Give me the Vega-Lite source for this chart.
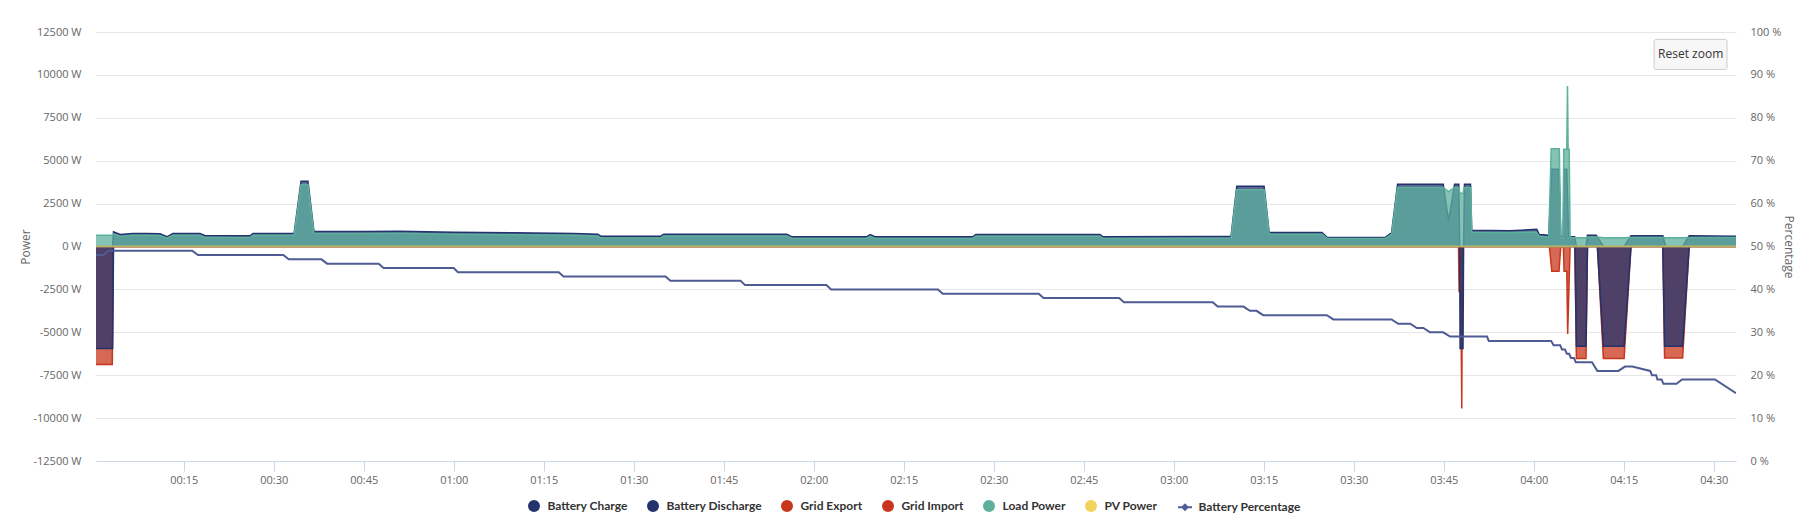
{
  "$schema": "https://vega.github.io/schema/vega-lite/v6.json",
  "width": 1640,
  "height": 429,
  "autosize": {"type": "none"},
  "padding": {"left": 96, "top": 32, "right": 64, "bottom": 66},
  "background": "white",
  "config": {
    "font": "Open Sans",
    "view": {"stroke": null},
    "axis": {"labelColor": "#666666", "labelFontSize": 11, "titleColor": "#666666", "titleFontSize": 12, "titleFontWeight": "normal"}
  },
  "datasets": {
    "load": [
      {"m": 0.38, "w": 660}, {"m": 3.15, "w": 660}, {"m": 3.3, "w": 740}, {"m": 4.4, "w": 600},
      {"m": 6.55, "w": 660}, {"m": 8.9, "w": 660}, {"m": 11.05, "w": 640}, {"m": 12.2, "w": 480},
      {"m": 13.2, "w": 660}, {"m": 17.7, "w": 660}, {"m": 18.5, "w": 540}, {"m": 26.05, "w": 520},
      {"m": 26.55, "w": 660}, {"m": 33.4, "w": 660}, {"m": 34.55, "w": 3620}, {"m": 35.7, "w": 3620},
      {"m": 36.7, "w": 760}, {"m": 45, "w": 760}, {"m": 51, "w": 770}, {"m": 60, "w": 720},
      {"m": 70, "w": 690}, {"m": 80, "w": 650}, {"m": 84, "w": 610}, {"m": 84.5, "w": 500},
      {"m": 94.5, "w": 500}, {"m": 95, "w": 610}, {"m": 115.5, "w": 610}, {"m": 116.4, "w": 470},
      {"m": 128.8, "w": 470}, {"m": 129.4, "w": 590}, {"m": 130.2, "w": 470}, {"m": 146.5, "w": 470},
      {"m": 147, "w": 600}, {"m": 167.7, "w": 600}, {"m": 168.2, "w": 470}, {"m": 184.4, "w": 480},
      {"m": 189.55, "w": 500}, {"m": 190.5, "w": 3300}, {"m": 195.05, "w": 3300}, {"m": 195.9, "w": 720},
      {"m": 204.7, "w": 720}, {"m": 205.6, "w": 460}, {"m": 215.2, "w": 460}, {"m": 216.3, "w": 700},
      {"m": 217.3, "w": 3440}, {"m": 224.9, "w": 3440}, {"m": 225.8, "w": 3200}, {"m": 226.8, "w": 3440},
      {"m": 227.5, "w": 3440}, {"m": 227.7, "w": 3100}, {"m": 228.2, "w": 3100}, {"m": 228.4, "w": 3440},
      {"m": 229.5, "w": 3440}, {"m": 229.65, "w": 830}, {"m": 236, "w": 810}, {"m": 240.4, "w": 840},
      {"m": 240.9, "w": 600}, {"m": 242.5, "w": 560}, {"m": 242.9, "w": 5700}, {"m": 244.25, "w": 5700},
      {"m": 244.5, "w": 520}, {"m": 244.85, "w": 500}, {"m": 245.0, "w": 5670}, {"m": 245.5, "w": 5670},
      {"m": 245.62, "w": 9350}, {"m": 245.72, "w": 5670}, {"m": 245.9, "w": 5670}, {"m": 246.05, "w": 510},
      {"m": 248.7, "w": 510}, {"m": 248.95, "w": 560}, {"m": 250.4, "w": 560}, {"m": 251.6, "w": 510},
      {"m": 255.05, "w": 510}, {"m": 256.2, "w": 530}, {"m": 261.5, "w": 530}, {"m": 262.0, "w": 510},
      {"m": 264.8, "w": 510}, {"m": 265.9, "w": 530}, {"m": 273.7, "w": 520}
    ],
    "bdis": [
      {"m": 0.38, "w": 0}, {"m": 3.15, "w": 0}, {"m": 3.3, "w": 860}, {"m": 4.4, "w": 700},
      {"m": 6.55, "w": 760}, {"m": 8.9, "w": 760}, {"m": 11.05, "w": 740}, {"m": 12.2, "w": 565},
      {"m": 13.2, "w": 760}, {"m": 17.7, "w": 760}, {"m": 18.5, "w": 640}, {"m": 26.05, "w": 622},
      {"m": 26.55, "w": 760}, {"m": 33.4, "w": 760}, {"m": 34.55, "w": 3800}, {"m": 35.7, "w": 3800},
      {"m": 36.7, "w": 880}, {"m": 45, "w": 880}, {"m": 51, "w": 890}, {"m": 60, "w": 830},
      {"m": 70, "w": 800}, {"m": 80, "w": 760}, {"m": 84, "w": 720}, {"m": 84.5, "w": 600},
      {"m": 94.5, "w": 600}, {"m": 95, "w": 717}, {"m": 115.5, "w": 717}, {"m": 116.4, "w": 565},
      {"m": 128.8, "w": 565}, {"m": 129.4, "w": 690}, {"m": 130.2, "w": 565}, {"m": 146.5, "w": 565},
      {"m": 147, "w": 700}, {"m": 167.7, "w": 700}, {"m": 168.2, "w": 565}, {"m": 184.4, "w": 580},
      {"m": 189.55, "w": 600}, {"m": 190.5, "w": 3515}, {"m": 195.05, "w": 3515}, {"m": 195.9, "w": 815},
      {"m": 204.7, "w": 815}, {"m": 205.6, "w": 525}, {"m": 215.2, "w": 525}, {"m": 216.3, "w": 800},
      {"m": 217.3, "w": 3630}, {"m": 224.9, "w": 3630}, {"m": 225.8, "w": 1500}, {"m": 226.8, "w": 3630},
      {"m": 227.5, "w": 3630}, {"m": 227.65, "w": 0}, {"m": 228.3, "w": 0}, {"m": 228.45, "w": 3630},
      {"m": 229.45, "w": 3630}, {"m": 229.65, "w": 950}, {"m": 236, "w": 920}, {"m": 240.5, "w": 1000},
      {"m": 240.9, "w": 700}, {"m": 242.5, "w": 650}, {"m": 243.0, "w": 4500}, {"m": 244.2, "w": 4500},
      {"m": 244.5, "w": 565}, {"m": 244.93, "w": 565}, {"m": 245.05, "w": 4500}, {"m": 245.5, "w": 4500},
      {"m": 245.8, "w": 565}, {"m": 246.8, "w": 565}, {"m": 247.1, "w": 0}, {"m": 248.7, "w": 0},
      {"m": 248.95, "w": 660}, {"m": 250.4, "w": 660}, {"m": 251.6, "w": 0}, {"m": 255.05, "w": 0},
      {"m": 256.2, "w": 620}, {"m": 261.5, "w": 620}, {"m": 262.0, "w": 0}, {"m": 264.8, "w": 0},
      {"m": 265.9, "w": 620}, {"m": 273.7, "w": 600}
    ],
    "bchg": [
      {"m": 0.38, "w": -5950}, {"m": 3.15, "w": -5950}, {"m": 3.3, "w": 0}, {"m": 227.65, "w": 0},
      {"m": 227.72, "w": -5950}, {"m": 228.2, "w": -5950}, {"m": 228.3, "w": 0}, {"m": 246.85, "w": 0},
      {"m": 247.1, "w": -5810}, {"m": 248.7, "w": -5810}, {"m": 248.95, "w": 0}, {"m": 250.6, "w": 0},
      {"m": 251.6, "w": -5810}, {"m": 255.05, "w": -5810}, {"m": 256.2, "w": 0}, {"m": 261.5, "w": 0},
      {"m": 261.8, "w": -5810}, {"m": 264.8, "w": -5810}, {"m": 265.9, "w": 0}, {"m": 273.7, "w": 0}
    ],
    "gimp": [
      {"m": 0.38, "w": -6880}, {"m": 3.1, "w": -6880}, {"m": 3.25, "w": 0}, {"m": 227.45, "w": 0},
      {"m": 227.55, "w": -2620}, {"m": 227.83, "w": -2620}, {"m": 228.0, "w": -9440}, {"m": 228.1, "w": 0},
      {"m": 242.6, "w": 0}, {"m": 243.0, "w": -1440}, {"m": 244.2, "w": -1440}, {"m": 244.5, "w": 0},
      {"m": 244.93, "w": 0}, {"m": 245.05, "w": -1440}, {"m": 245.5, "w": -1440}, {"m": 245.65, "w": -5100},
      {"m": 246.05, "w": 0}, {"m": 246.85, "w": 0}, {"m": 247.1, "w": -6530}, {"m": 248.7, "w": -6530},
      {"m": 248.95, "w": 0}, {"m": 250.6, "w": 0}, {"m": 251.6, "w": -6530}, {"m": 255.05, "w": -6530},
      {"m": 256.2, "w": 0}, {"m": 261.5, "w": 0}, {"m": 261.8, "w": -6500}, {"m": 264.8, "w": -6500},
      {"m": 265.9, "w": 0}, {"m": 273.7, "w": 0}
    ],
    "gexp": [{"m": 0.38, "w": 0}, {"m": 273.7, "w": 0}],
    "pv": [{"m": 0.38, "w": 0}, {"m": 273.7, "w": 0}],
    "soc": [
      {"m": 0.38, "p": 48}, {"m": 1.6, "p": 48}, {"m": 2.4, "p": 49}, {"m": 16.4, "p": 49},
      {"m": 17.4, "p": 48}, {"m": 31.6, "p": 48}, {"m": 32.5, "p": 47}, {"m": 37.95, "p": 47},
      {"m": 38.9, "p": 46}, {"m": 47.5, "p": 46}, {"m": 48.3, "p": 45}, {"m": 60, "p": 45},
      {"m": 60.7, "p": 44}, {"m": 77.5, "p": 44}, {"m": 78.3, "p": 43}, {"m": 95.3, "p": 43},
      {"m": 96.1, "p": 42}, {"m": 107.8, "p": 42}, {"m": 108.55, "p": 41}, {"m": 122.1, "p": 41},
      {"m": 122.9, "p": 40}, {"m": 140.7, "p": 40}, {"m": 141.5, "p": 39}, {"m": 157.5, "p": 39},
      {"m": 158.3, "p": 38}, {"m": 170.9, "p": 38}, {"m": 171.7, "p": 37}, {"m": 186.5, "p": 37},
      {"m": 187.3, "p": 36}, {"m": 191.6, "p": 36}, {"m": 192.7, "p": 35}, {"m": 193.8, "p": 35},
      {"m": 194.9, "p": 34}, {"m": 205.5, "p": 34}, {"m": 206.6, "p": 33}, {"m": 216.3, "p": 33},
      {"m": 217.4, "p": 32}, {"m": 219.4, "p": 32}, {"m": 220.5, "p": 31}, {"m": 221.6, "p": 31},
      {"m": 222.7, "p": 30}, {"m": 224.9, "p": 30}, {"m": 226.05, "p": 29}, {"m": 232.2, "p": 29},
      {"m": 232.5, "p": 28}, {"m": 242.9, "p": 28}, {"m": 243.3, "p": 27}, {"m": 244.4, "p": 27},
      {"m": 244.7, "p": 26}, {"m": 245.2, "p": 26}, {"m": 245.5, "p": 25}, {"m": 245.9, "p": 25},
      {"m": 246.2, "p": 24}, {"m": 246.7, "p": 24}, {"m": 247.0, "p": 23}, {"m": 249.7, "p": 23},
      {"m": 250.6, "p": 21}, {"m": 254.1, "p": 21}, {"m": 255.2, "p": 22}, {"m": 256.4, "p": 22},
      {"m": 259.4, "p": 21}, {"m": 259.7, "p": 20}, {"m": 260.4, "p": 20}, {"m": 260.6, "p": 19},
      {"m": 261.3, "p": 19}, {"m": 261.6, "p": 18}, {"m": 263.8, "p": 18}, {"m": 264.7, "p": 19},
      {"m": 270.2, "p": 19}, {"m": 273.7, "p": 15.8}
    ]
  },
  "layer": [
    {
      "layer": [
        {
          "data": {"name": "gexp"},
          "mark": {"type": "area", "fillOpacity": 0.75, "line": {"strokeWidth": 1.5}, "clip": true},
          "encoding": {
            "x": {
              "field": "m", "type": "quantitative",
              "scale": {"domain": [0.38, 273.7], "nice": false, "zero": false},
              "axis": {
                "values": [15, 30, 45, 60, 75, 90, 105, 120, 135, 150, 165, 180, 195, 210, 225, 240, 255, 270],
                "labelExpr": "timeFormat(datetime(2020, 0, 1, 0, datum.value), '%H:%M')",
                "title": null, "grid": false, "domainColor": "#ccd6eb", "tickColor": "#ccd6eb",
                "tickSize": 10, "labelPadding": 3, "labelFlush": false
              }
            },
            "y": {
              "field": "w", "type": "quantitative",
              "scale": {"domain": [-12500, 12500], "nice": false, "zero": false},
              "axis": {
                "orient": "left",
                "values": [-12500, -10000, -7500, -5000, -2500, 0, 2500, 5000, 7500, 10000, 12500],
                "labelExpr": "datum.value + ' W'",
                "title": "Power", "grid": true, "gridColor": "#e6e6e6", "domain": false, "ticks": false,
                "labelPadding": 15, "titleX": -71, "titleY": 214.5, "titleAngle": 270, "titleBaseline": "middle"
              }
            },
            "y2": {"datum": 0},
            "color": {
              "datum": "Grid Export",
              "scale": {
                "domain": ["Battery Charge", "Battery Discharge", "Grid Export", "Grid Import", "Load Power", "PV Power", "Battery Percentage"],
                "range": ["#22336e", "#22336e", "#c8361c", "#c8361c", "#5cb09c", "#f2d35e", "#4f5b93"]
              },
              "legend": {
                "orient": "none", "legendX": 432, "legendY": 468, "direction": "horizontal", "title": null,
                "symbolType": "circle", "symbolSize": 100, "labelFont": "Lato", "labelFontSize": 12, "labelFontWeight": "bold",
                "labelColor": "#333333", "columnPadding": 16, "labelOffset": 7.5,
                "encode": {
                  "symbols": {
                    "update": {
                      "fill": {"signal": "indexof(datum.label, 'Battery') === 0 ? '#4f5b93' : indexof(datum.label, 'Grid') === 0 ? '#c8361c' : datum.label === 'Load Power' ? '#5fb3a0' : '#f2d35e'"},
                      "stroke": {"signal": "datum.label === 'Battery Percentage' ? '#4f5b93' : 'transparent'"},
                      "strokeWidth": {"value": 2},
                      "opacity": {"value": 1},
                      "fillOpacity": {"value": 1},
                      "shape": {"signal": "datum.label === 'Battery Percentage' ? 'M-1.4,0H1.4M0,-0.5L0.5,0L0,0.5L-0.5,0Z' : 'circle'"}
                    }
                  }
                }
              }
            }
          }
        },
        {
          "data": {"name": "gimp"},
          "mark": {"type": "area", "fillOpacity": 0.75, "line": {"strokeWidth": 1.5}, "clip": true},
          "encoding": {
            "x": {"field": "m", "type": "quantitative"},
            "y": {"field": "w", "type": "quantitative"},
            "y2": {"datum": 0},
            "color": {"datum": "Grid Import"}
          }
        },
        {
          "data": {"name": "bchg"},
          "mark": {"type": "area", "fillOpacity": 0.75, "line": {"strokeWidth": 1.5}, "clip": true},
          "encoding": {
            "x": {"field": "m", "type": "quantitative"},
            "y": {"field": "w", "type": "quantitative"},
            "y2": {"datum": 0},
            "color": {"datum": "Battery Charge"}
          }
        },
        {
          "data": {"name": "bdis"},
          "mark": {"type": "area", "fillOpacity": 0.75, "line": {"strokeWidth": 1.5}, "clip": true},
          "encoding": {
            "x": {"field": "m", "type": "quantitative"},
            "y": {"field": "w", "type": "quantitative"},
            "y2": {"datum": 0},
            "color": {"datum": "Battery Discharge"}
          }
        },
        {
          "data": {"name": "load"},
          "mark": {"type": "area", "fillOpacity": 0.75, "line": {"strokeWidth": 1.5}, "clip": true},
          "encoding": {
            "x": {"field": "m", "type": "quantitative"},
            "y": {"field": "w", "type": "quantitative"},
            "y2": {"datum": 0},
            "color": {"datum": "Load Power"}
          }
        },
        {
          "data": {"name": "pv"},
          "mark": {"type": "line", "strokeWidth": 2, "opacity": 0.7, "clip": true},
          "encoding": {
            "x": {"field": "m", "type": "quantitative"},
            "y": {"field": "w", "type": "quantitative"},
            "color": {"datum": "PV Power"}
          }
        },
        {
          "data": {"values": [{"label": "Reset zoom"}]},
          "mark": {"type": "rect", "fill": "#f7f7f7", "stroke": "#cccccc", "strokeWidth": 1, "cornerRadius": 2},
          "encoding": {
            "x": {"datum": 260.05, "type": "quantitative"},
            "x2": {"datum": 272.2},
            "y": {"datum": 12070, "type": "quantitative"},
            "y2": {"datum": 10320}
          }
        },
        {
          "data": {"values": [{"label": "Reset zoom"}]},
          "mark": {"type": "text", "fontSize": 12, "color": "#333333"},
          "encoding": {
            "x": {"datum": 266.15, "type": "quantitative"},
            "y": {"datum": 11194, "type": "quantitative"},
            "text": {"field": "label"}
          }
        }
      ]
    },
    {
      "data": {"name": "soc"},
      "mark": {"type": "line", "strokeWidth": 2, "clip": true},
      "encoding": {
        "x": {"field": "m", "type": "quantitative"},
        "y": {
          "field": "p", "type": "quantitative",
          "scale": {"domain": [0, 100], "nice": false},
          "axis": {
            "orient": "right",
            "values": [0, 10, 20, 30, 40, 50, 60, 70, 80, 90, 100],
            "labelExpr": "datum.value + ' %'",
            "title": "Percentage", "grid": false, "domain": false, "ticks": false,
            "labelPadding": 14, "titleX": 52, "titleY": 214.5, "titleAngle": 90, "titleBaseline": "middle"
          }
        },
        "color": {"datum": "Battery Percentage"}
      }
    }
  ],
  "resolve": {"scale": {"y": "independent"}}
}
